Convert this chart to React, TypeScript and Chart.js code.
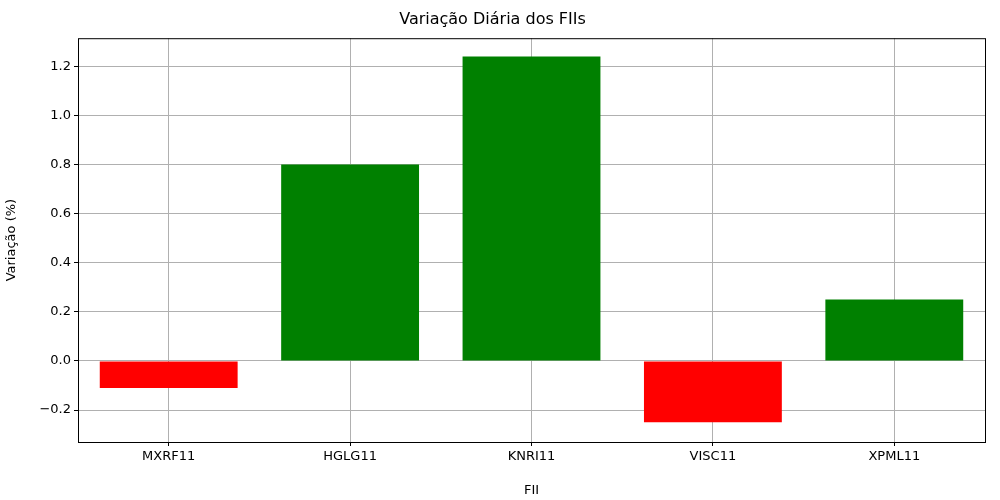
import { useEffect, useRef } from "react";
import Chart from "chart.js/auto";

const fiis = ["MXRF11", "HGLG11", "KNRI11", "VISC11", "XPML11"];
const variacao = [-0.11, 0.8, 1.24, -0.25, 0.25];

const frame = {
  id: "frame",
  afterDraw(chart: any) {
    const { ctx, chartArea: a } = chart;
    ctx.save();
    ctx.strokeStyle = "#000";
    ctx.lineWidth = 1;
    ctx.strokeRect(a.left + 0.5, a.top + 0.5, a.right - a.left, a.bottom - a.top);
    ctx.restore();
  },
};

export default function App() {
  const ref = useRef<HTMLCanvasElement | null>(null);

  useEffect(() => {
    document.body.style.margin = "0";
    if (!ref.current) return;
    const font = { family: "DejaVu Sans", size: 13 };
    const chart = new Chart(ref.current, {
      type: "bar",
      data: {
        labels: fiis,
        datasets: [
          {
            data: variacao,
            backgroundColor: variacao.map((v) => (v >= 0 ? "green" : "red")),
            categoryPercentage: 0.76,
            barPercentage: 1,
          },
        ],
      },
      options: {
        animation: false,
        responsive: false,
        layout: { padding: { right: 15 } },
        plugins: {
          legend: { display: false },
          tooltip: { enabled: false },
          title: {
            display: true,
            text: "Variação Diária dos FIIs",
            color: "#000",
            font: { family: "DejaVu Sans", size: 16, weight: "normal" },
            padding: { top: 10, bottom: 9 },
          },
        },
        scales: {
          x: {
            grid: { offset: false, color: "#b0b0b0", drawTicks: true, tickColor: "#000", tickLength: 4 },
            border: { display: false },
            ticks: { color: "#000", font },
            title: { display: true, text: "FII", color: "#000", font, padding: 2 },
            afterFit: (s: any) => { s.height = 58; },
          },
          y: {
            min: -0.33,
            max: 1.314,
            grid: { color: "#b0b0b0", tickColor: "#000", tickLength: 4 },
            border: { display: false },
            ticks: {
              color: "#000",
              font,
              stepSize: 0.2,
              callback: (v: any) => {
                const n = Number(v);
                if (Math.abs(Math.round(n * 5) - n * 5) > 1e-6) return "";
                return n.toFixed(1).replace("-", "−");
              },
            },
            afterBuildTicks: (s: any) => {
              s.ticks = [-0.2, 0, 0.2, 0.4, 0.6, 0.8, 1.0, 1.2].map((value) => ({ value }));
            },
            title: { display: true, text: "Variação (%)", color: "#000", font },
            afterFit: (s: any) => { s.width = 78; },
          },
        },
      },
      plugins: [frame],
    });
    return () => chart.destroy();
  }, []);

  return <canvas ref={ref} width={1000} height={500}></canvas>;
}
